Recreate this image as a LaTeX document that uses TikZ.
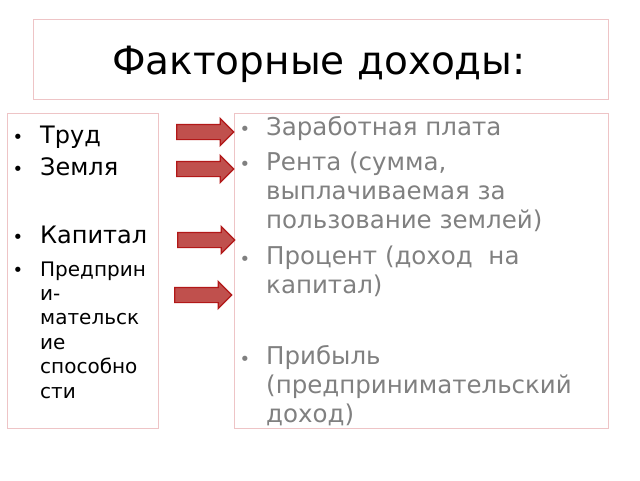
\documentclass[tikz,border=0pt]{standalone}
\usepackage{fontspec}
\setmainfont{DejaVu Sans}
\usetikzlibrary{shapes.arrows}

\definecolor{framepink}{RGB}{238,196,198}
\definecolor{arrowfill}{RGB}{192,80,77}
\definecolor{arrowedge}{RGB}{178,24,24}
\definecolor{textgray}{RGB}{128,128,128}

\tikzset{
  frame/.style={draw=framepink, line width=0.8pt},
  bigitem/.style={anchor=base west, inner sep=0pt, font=\fontsize{24}{29}\selectfont},
  smallitem/.style={anchor=base west, inner sep=0pt, align=left, font=\fontsize{20}{24.4}\selectfont},
  grayitem/.style={anchor=base west, inner sep=0pt, align=left, text=textgray, font=\fontsize{24.5}{28.8}\selectfont},
  blackdot/.style={anchor=base, inner sep=0pt, font=\fontsize{18}{20}\selectfont},
  graydot/.style={blackdot, text=textgray},
  redarrow/.style={single arrow, draw=arrowedge, fill=arrowfill, line width=1.2pt,
    inner xsep=0pt, inner ysep=7pt, minimum height=57pt, single arrow head extend=6pt}
}

\begin{document}
\begin{tikzpicture}[x=1pt,y=-1pt]
        \useasboundingbox (0,0) rectangle (640,480);
        % frames
        \draw[frame] (33,19) rectangle (608,99);
        \draw[frame] (7,113) rectangle (158,428);
        \draw[frame] (234,113) rectangle (608,428);
        % title
        \node[font=\fontsize{39}{44}\selectfont] (title) at (319,64) {Факторные доходы:};
        % factors (multi-line nodes sit on their last line)
        \node[blackdot] (d1) at (18,143) {•};
        \node[bigitem] (trud) at (40,143) {Труд};
        \node[blackdot] (d2) at (18,175) {•};
        \node[bigitem] (zemlya) at (40,175) {Земля};
        \node[blackdot] (d3) at (18,243) {•};
        \node[bigitem] (kapital) at (40,243) {Капитал};
        \node[blackdot] (d4) at (18,276) {•};
        \node[smallitem] (predpr) at (40,398) {Предприн\\и-\\мательск\\ие\\способно\\сти};
        % incomes
        \node[graydot] (g1) at (245,135) {•};
        \node[grayitem] (zarplata) at (266,135) {Заработная плата};
        \node[graydot] (g2) at (245,170) {•};
        \node[grayitem] (renta) at (266,228) {Рента (сумма,\\выплачиваемая за\\пользование землей)};
        \node[graydot] (g3) at (245,265) {•};
        \node[grayitem] (procent) at (266,293) {Процент (доход~~на\\капитал)};
        \node[graydot] (g4) at (245,365) {•};
        \node[grayitem] (pribyl) at (266,422) {Прибыль\\(предпринимательский\\доход)};
        % arrows
        \node[redarrow] (a1) at (201.5,132) {};
        \node[redarrow] (a2) at (201.5,169) {};
        \node[redarrow] (a3) at (202.5,240) {};
        \node[redarrow] (a4) at (199.5,295) {};
\end{tikzpicture}
\end{document}
